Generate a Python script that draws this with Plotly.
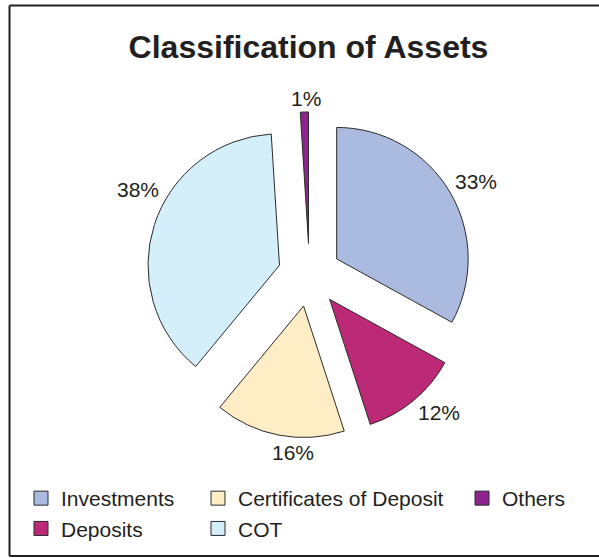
import math
import plotly.graph_objects as go

categories = ["Investments", "Deposits", "Certificates of Deposit", "COT", "Others"]
values = [33, 12, 16, 38, 1]
colors = ["#ABBBE0", "#BC2A77", "#FFEDC6", "#D4EEFA", "#8E248E"]

# legend columns (row-major reading in the reference)
legend_cols = {
    "legend": ["Investments", "Deposits"],
    "legend2": ["Certificates of Deposit", "COT"],
    "legend3": ["Others"],
}

W, H = 599, 558
FONT = "Liberation Sans, Arial, Helvetica, sans-serif"
TXT = "#231F20"
LABEL_SIZE = 21
# small angular nudges (degrees) for the percentage labels, as laid out in the reference
LABEL_NUDGE = [1.4, -3.5, -5.5, 8.5, 0.7]

fig = go.Figure()

# pie geometry (pixels)
cx, cy, r, pull = 309.5, 275.0, 131.5, 0.24
half = r * (1 + pull)
fig.add_trace(go.Pie(
    labels=categories, values=values, sort=False, direction="clockwise", rotation=0,
    marker=dict(colors=colors, line=dict(color="#2b2b2b", width=1)),
    pull=[pull] * len(values),
    textinfo="none",
    showlegend=False, hoverinfo="label+percent",
    domain=dict(x=[(cx - half) / W, (cx + half) / W],
                y=[1 - (cy + half) / H, 1 - (cy - half) / H]),
))

# percentage labels placed just outside each pulled slice, along its mid-angle
total = sum(values)
annotations = []
cum = 0.0
for v, nudge in zip(values, LABEL_NUDGE):
    mid = (cum + v / 2) / total * 2 * math.pi + math.radians(nudge)
    cum += v
    dx, dy = math.sin(mid), -math.cos(mid)
    txt = f"{round(100 * v / total)}%"
    tw = 0.556 * LABEL_SIZE * (len(txt) - 1) + 0.889 * LABEL_SIZE
    th = 0.72 * LABEL_SIZE
    ext = abs(dx) * tw / 2 + abs(dy) * th / 2
    dist = r * (1 + pull) + 6 + ext
    px, py = cx + dist * dx, cy + dist * dy
    annotations.append(dict(text=txt, x=px / W, y=1 - py / H, xref="paper", yref="paper",
                            xanchor="center", yanchor="middle", showarrow=False,
                            font=dict(family=FONT, size=LABEL_SIZE, color=TXT)))

cmap = dict(zip(categories, colors))
for lg, names in legend_cols.items():
    for n in names:
        fig.add_trace(go.Scatter(
            x=[None], y=[None], mode="markers", name=n, legend=lg,
            marker=dict(symbol="square", size=14, color=cmap[n],
                        line=dict(color="#2b2b2b", width=1)),
            showlegend=True,
        ))

leg_common = dict(font=dict(family=FONT, size=21, color=TXT), bgcolor="rgba(0,0,0,0)",
                  orientation="v", xanchor="left", yanchor="top", traceorder="normal",
                  borderwidth=0, itemclick=False, itemdoubleclick=False)
top_y = 1 - 478 / H

# frame: left, top and bottom edges (the right edge lies outside the picture)
fx0, fy_top, fy_bot = 9.5 / W, 1 - 5.5 / H, 1 - 556 / H
frame_line = dict(color=TXT, width=2)
shapes = [
    dict(type="line", xref="paper", yref="paper", x0=fx0, x1=fx0, y0=fy_bot, y1=fy_top, line=frame_line),
    dict(type="line", xref="paper", yref="paper", x0=fx0, x1=1, y0=fy_top, y1=fy_top, line=frame_line),
    dict(type="line", xref="paper", yref="paper", x0=fx0, x1=1, y0=fy_bot, y1=fy_bot, line=frame_line),
]

fig.update_layout(
    width=W, height=H,
    margin=dict(l=0, r=0, t=0, b=0),
    paper_bgcolor="white", plot_bgcolor="white",
    title=dict(text="<b>Classification of Assets</b>", x=308.5 / W, y=1 - 47 / H,
               xanchor="center", yanchor="middle", xref="paper", yref="paper",
               font=dict(family=FONT, size=32, color=TXT)),
    xaxis=dict(visible=False), yaxis=dict(visible=False),
    legend=dict(x=21 / W, y=top_y, **leg_common),
    legend2=dict(x=198 / W, y=top_y, **leg_common),
    legend3=dict(x=462 / W, y=top_y, **leg_common),
    annotations=annotations,
    shapes=shapes,
)

fig.write_html("out.html", config={"displayModeBar": False},
               post_script="document.body.style.margin='0';")
